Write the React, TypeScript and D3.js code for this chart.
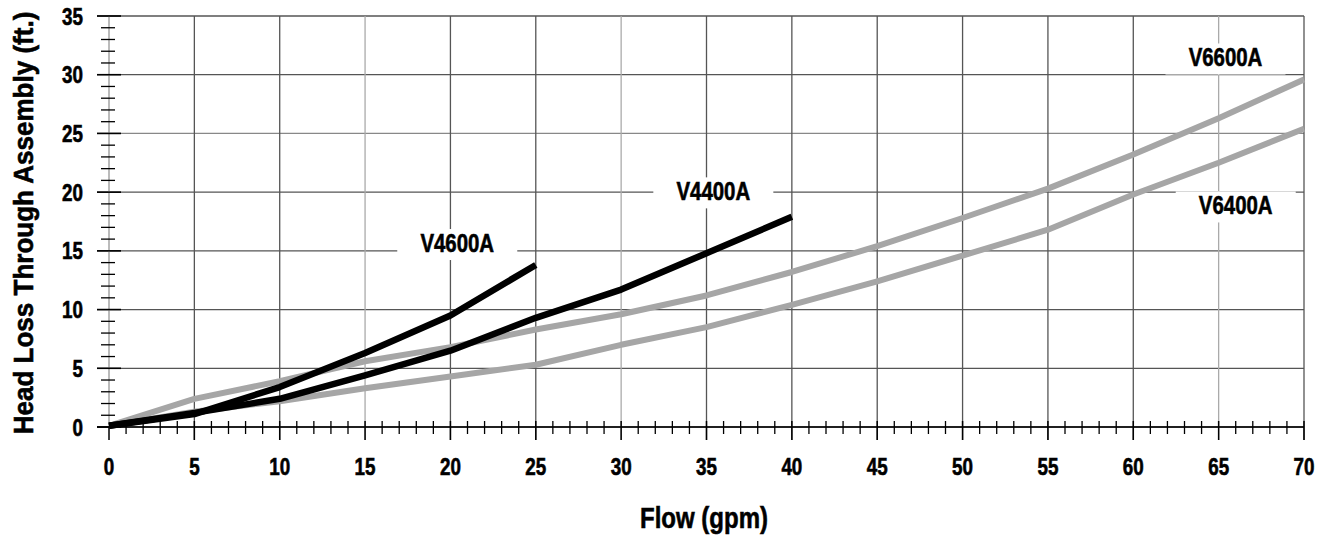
import { useEffect } from 'react';
import * as d3 from 'd3';

// flow values (gpm) at which the curves were read
const flow = [0, 5, 10, 15, 20, 25, 30, 35, 40, 45, 50, 55, 60, 65, 70];

// head loss (ft.) per valve
const v4600a = [0.1, 1.1, 3.4, 6.3, 9.5, 13.8];
const v4400a = [0.1, 1.2, 2.4, 4.4, 6.5, 9.3, 11.7, 14.8, 17.9];
const v6600a = [0.1, 2.4, 3.9, 5.6, 6.8, 8.3, 9.6, 11.2, 13.2, 15.4, 17.8, 20.3, 23.2, 26.3, 29.6];
const v6400a = [0.1, 1.3, 2.2, 3.3, 4.3, 5.3, 7.0, 8.5, 10.4, 12.4, 14.6, 16.8, 19.8, 22.5, 25.4];

const xTicks = [0, 5, 10, 15, 20, 25, 30, 35, 40, 45, 50, 55, 60, 65, 70];
const yTicks = [0, 5, 10, 15, 20, 25, 30, 35];

// label anchor points in data units [gpm, ft]
const labelNames = ['V6600A', 'V6400A', 'V4400A', 'V4600A'];
const labelAt = [[65.4, 30.7], [66.0, 18.1], [35.4, 19.3], [20.4, 14.9]];

const width = 1326;
const height = 537;
const font = "'Liberation Sans', Arial, sans-serif";

// bold text squeezed sideways to look like a condensed face
function T(props: { x: number; y: number; size: number; anchor?: string; rotate?: number; sx?: number; children: any }) {
  const rot = props.rotate ? ` rotate(${props.rotate})` : '';
  return (
    <text transform={`translate(${props.x},${props.y})${rot} scale(${props.sx || 0.8},1)`}
      textAnchor={props.anchor || 'middle'} fontFamily={font} fontWeight="bold" fontSize={props.size}
      stroke="#000" strokeWidth={0.6}>
      {props.children}
    </text>
  );
}

export default function App() {
  useEffect(() => {
    document.body.style.margin = '0';
  }, []);

  const x = d3.scaleLinear().domain([0, 70]).range([109, 1304]);
  const y = d3.scaleLinear().domain([0, 35]).range([427, 16]);

  const line = d3.line<number>()
    .x((d, i) => x(flow[i]))
    .y(d => y(d));

  const grays = [v6600a, v6400a];
  const blacks = [v4600a, v4400a];

  const minorX = d3.range(0, 71).filter(v => v % 5 !== 0);
  const minorY = d3.range(0, 36).filter(v => v % 5 !== 0);
  const lightX = [15, 30, 65];

  return (
    <svg width={width} height={height} style={{ display: 'block', background: '#fff' }}>
      {/* horizontal grid */}
      {yTicks.map(t => (
        <line key={'h' + t} x1={97} x2={x(70)} y1={y(t)} y2={y(t)}
          stroke={t === 25 ? '#888' : '#555'} strokeWidth={1.3} />
      ))}
      {/* vertical grid */}
      {xTicks.filter(t => t > 0).map(t => (
        <line key={'v' + t} x1={x(t)} x2={x(t)} y1={y(35)} y2={440}
          stroke={lightX.includes(t) ? '#aaa' : '#555'} strokeWidth={1.3} />
      ))}
      {/* y axis line */}
      <line x1={x(0)} x2={x(0)} y1={y(35)} y2={y(0)} stroke="#bbb" strokeWidth={2} />
      <line x1={x(0)} x2={x(0)} y1={y(0)} y2={440} stroke="#000" strokeWidth={1.5} />
      {/* y ticks */}
      {yTicks.map(t => (
        <line key={'yt' + t} x1={97} x2={121} y1={y(t)} y2={y(t)} stroke="#000" strokeWidth={1.6} />
      ))}
      {minorY.map(t => (
        <line key={'ym' + t} x1={101} x2={115} y1={y(t)} y2={y(t)} stroke="#000" strokeWidth={1.3} />
      ))}
      {/* x axis */}
      <line x1={97} x2={x(70)} y1={y(0)} y2={y(0)} stroke="#000" strokeWidth={1.6} />
      {minorX.map(t => (
        <line key={'xm' + t} x1={x(t)} x2={x(t)} y1={421} y2={434} stroke="#000" strokeWidth={1.3} />
      ))}
      {xTicks.filter(t => t > 0).map(t => (
        <line key={'xt' + t} x1={x(t)} x2={x(t)} y1={421} y2={440} stroke="#000" strokeWidth={1.5} />
      ))}

      {/* label backgrounds */}
      {labelAt.map((p, i) => (
        <rect key={'lb' + i} x={x(p[0]) - 60} y={y(p[1]) - 23} width={120} height={31} fill="#fff" />
      ))}

      {/* curves */}
      {grays.map((s, i) => (
        <path key={'g' + i} d={line(s) || ''} fill="none" stroke="#a6a6a6" strokeWidth={6} strokeLinejoin="round" />
      ))}
      {blacks.map((s, i) => (
        <path key={'b' + i} d={line(s) || ''} fill="none" stroke="#000" strokeWidth={6.5} strokeLinejoin="round" />
      ))}

      {/* series labels */}
      {labelAt.map((p, i) => (
        <T key={'lt' + i} x={x(p[0])} y={y(p[1])} size={25.5}>{labelNames[i]}</T>
      ))}

      {/* tick labels */}
      {yTicks.map(t => (
        <T key={'yl' + t} x={83} y={y(t) + 8.5} size={23.5} anchor="end">{t}</T>
      ))}
      {xTicks.map(t => (
        <T key={'xl' + t} x={x(t)} y={475} size={23.5}>{t}</T>
      ))}

      {/* axis titles */}
      <T x={704} y={528} size={30}>Flow (gpm)</T>
      <T x={33} y={223} size={28} sx={0.93} rotate={-90}>Head Loss Through Assembly (ft.)</T>
    </svg>
  );
}
